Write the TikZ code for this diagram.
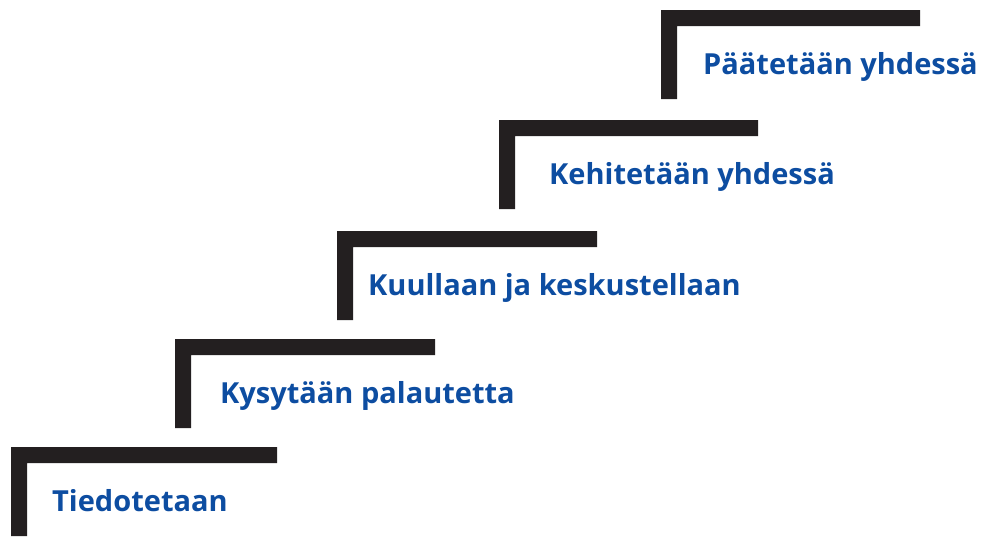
\documentclass[tikz,border=0pt]{standalone}
\usepackage{fontspec}
\setmainfont{Open Sans}
\definecolor{stepdark}{HTML}{231F20}
\definecolor{stepblue}{HTML}{0D4DA1}
\begin{document}
\begin{tikzpicture}
[x=1pt, y=-1pt,
 stair/.style={fill=stepdark},
 steplabel/.style={anchor=base west, inner sep=0pt, text=stepblue,
                   font=\fontsize{29}{34}\selectfont\bfseries}]
  \useasboundingbox (0,0) rectangle (982,536);
  % one stair per level: outer corner x/y, tread width, text offset, label
  \foreach \x/\y/\w/\dx/\txt [count=\i] in
    {11/447/266/41/Tiedotetaan,
     175/339/260/45/Kysytään palautetta,
     337/231/260/31/Kuullaan ja keskustellaan,
     499/120/259/50/Kehitetään yhdessä,
     661/10/259/42/Päätetään yhdessä}
  {
    \fill[stair] (\x,\y+89) -- (\x,\y) -- (\x+\w,\y) -- (\x+\w,\y+16)
                 -- (\x+16,\y+16) -- (\x+16,\y+89) -- cycle;
    \node[steplabel] (level\i) at (\x+\dx,\y+64) {\txt};
  }
\end{tikzpicture}
\end{document}
